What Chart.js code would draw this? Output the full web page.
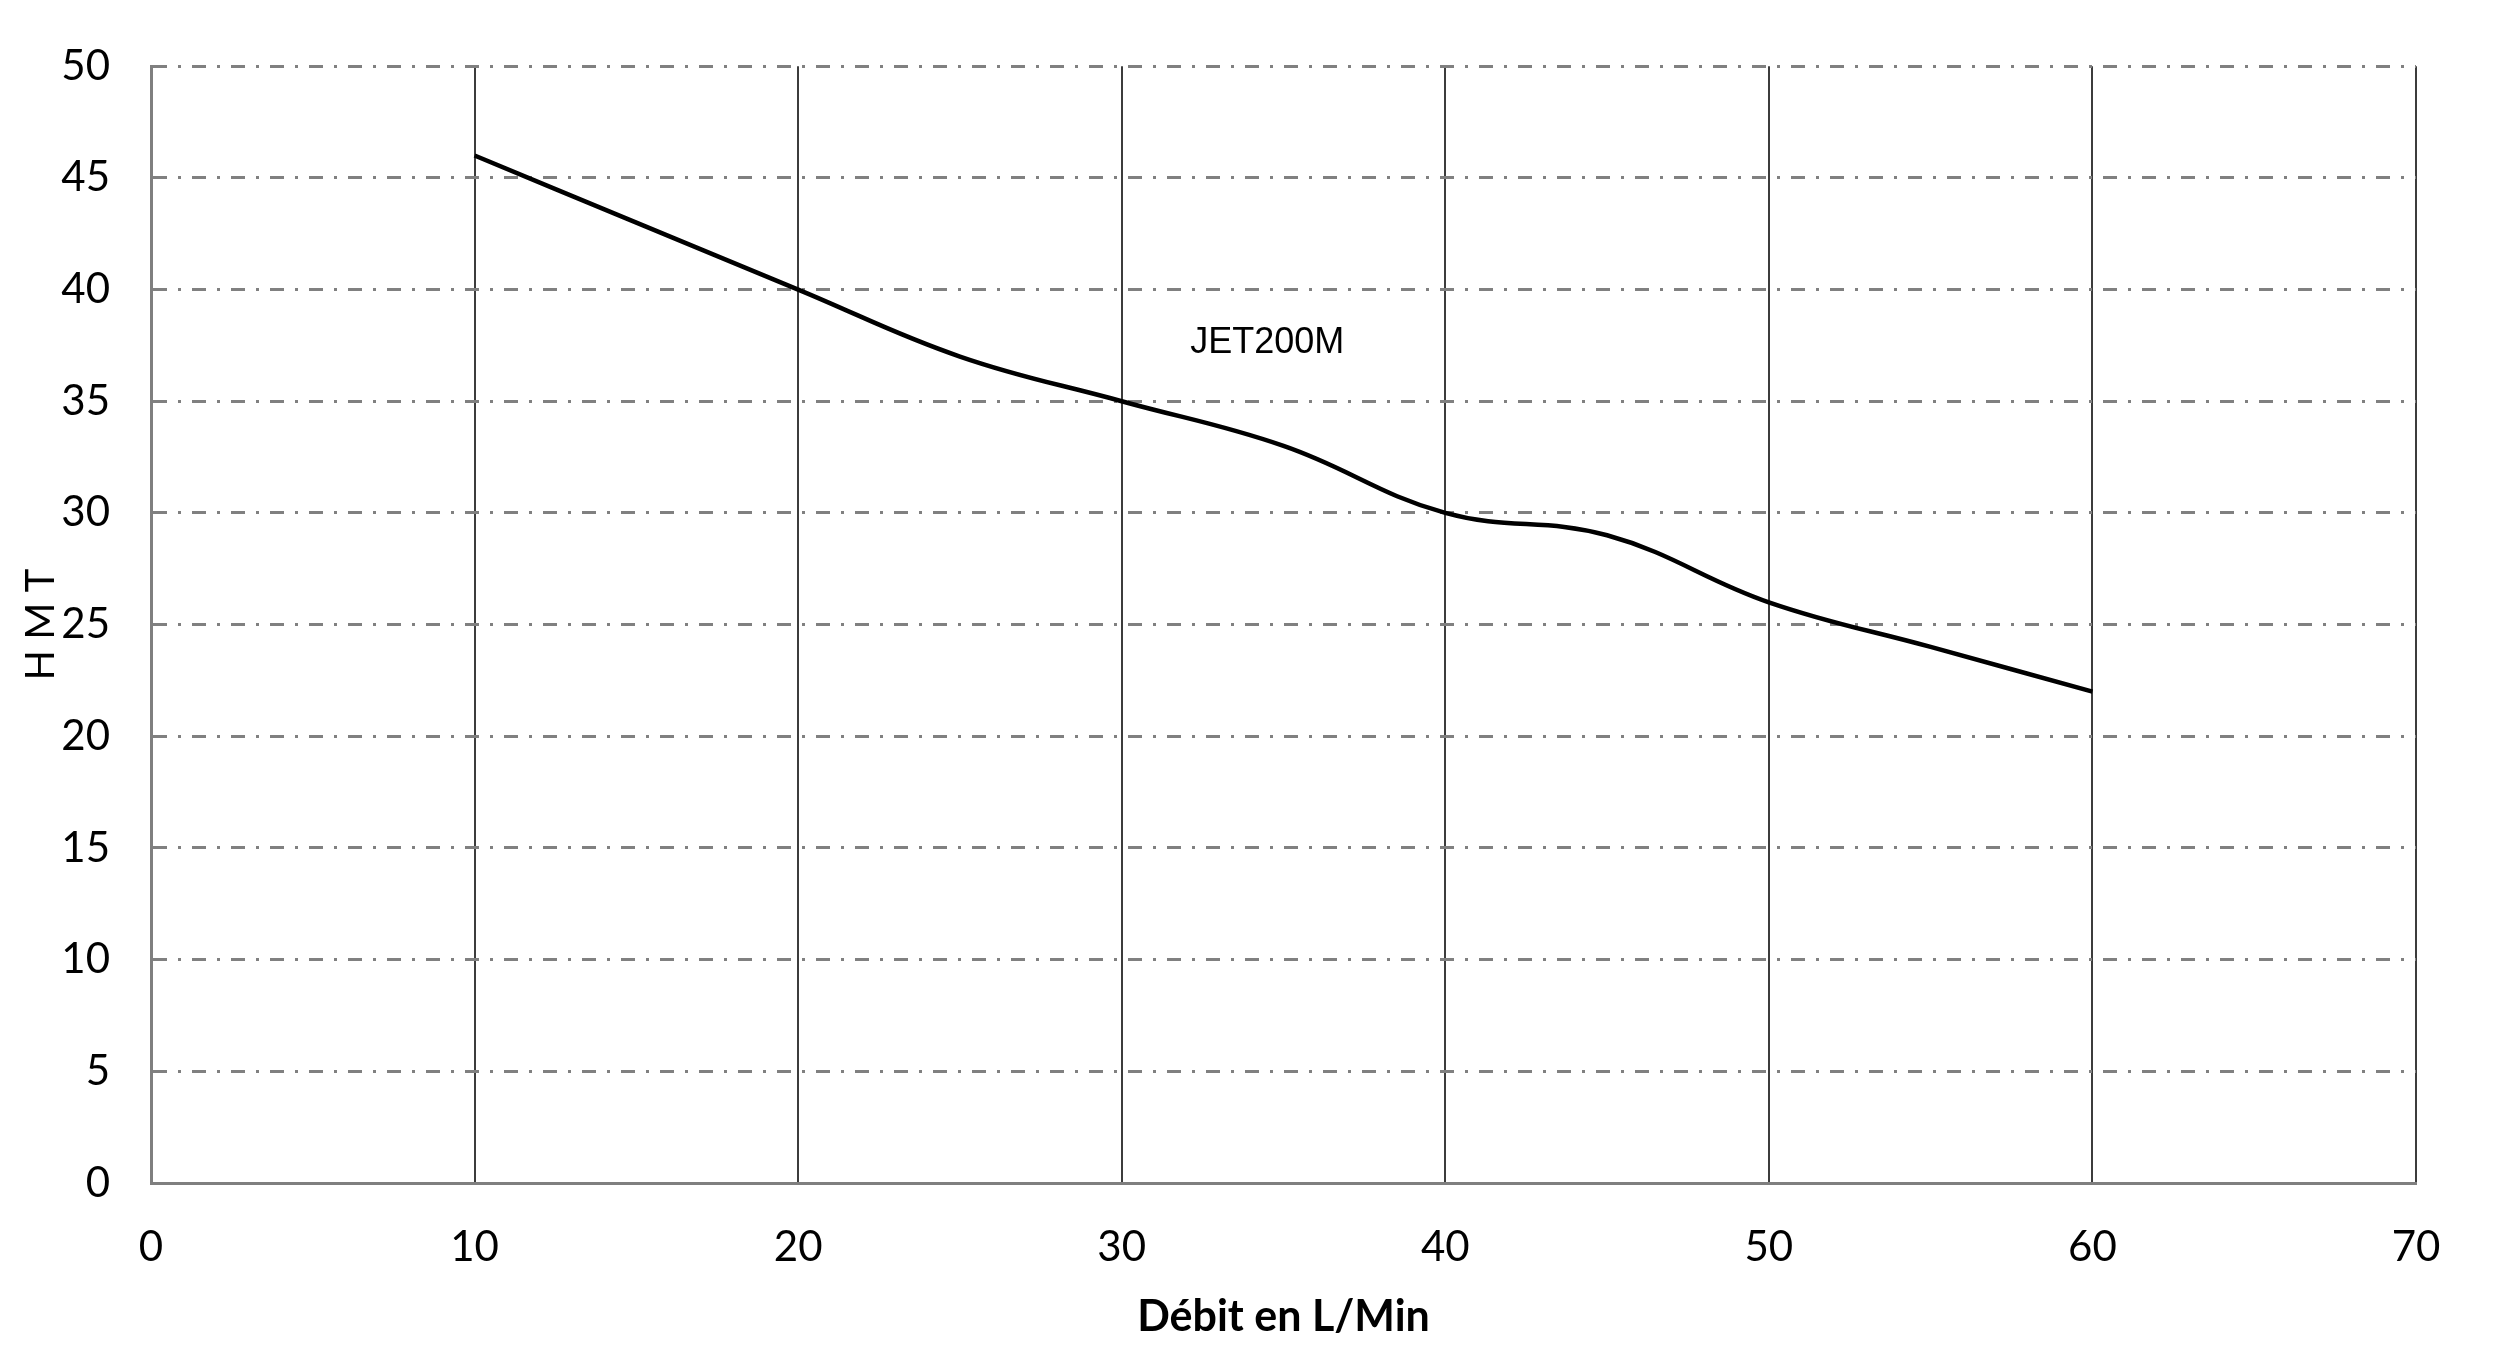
<!DOCTYPE html>
<html>
<head>
<meta charset="utf-8">
<script src="https://cdn.jsdelivr.net/npm/chart.js@4.4.1/dist/chart.umd.min.js"></script>
<style>
  html, body { margin: 0; padding: 0; background: #fff; }
  #wrap { width: 2500px; height: 1349px; }
</style>
</head>
<body>
<div id="wrap"><canvas id="curve"></canvas></div>
<script>
// ===== Pump curve JET200M =====
const debit = [10, 15, 20, 25, 30, 35, 40, 45, 50, 55, 60];
const hmt = [46, 43, 40, 37, 35, 33, 30, 29, 26, 24, 22];
const seriesName = 'JET200M';
const xTitle = 'Débit en L/Min';
const yTitle = 'H M T';
const labelAt = { x: 34.5, y: 37.6 };

const tickFont = { family: 'Lato', size: 42 };

// draws the series name inside the plot
const seriesLabel = {
  id: 'seriesLabel',
  afterDatasetsDraw(chart) {
    const { ctx, scales } = chart;
    ctx.save();
    ctx.font = '36px "Liberation Sans", Arial, sans-serif';
    ctx.fillStyle = '#000';
    ctx.textAlign = 'center';
    ctx.textBaseline = 'middle';
    ctx.fillText(seriesName, scales.x.getPixelForValue(labelAt.x), scales.y.getPixelForValue(labelAt.y));
    ctx.restore();
  },
};

new Chart(document.getElementById('curve'), {
  type: 'line',
  data: {
    datasets: [{
      label: seriesName,
      data: debit.map((d, i) => ({ x: d, y: hmt[i] })),
      borderColor: '#000',
      borderWidth: 4.5,
      pointRadius: 0,
      tension: 0.4,
      fill: false,
    }],
  },
  options: {
    responsive: true,
    maintainAspectRatio: false,
    animation: false,
    layout: { padding: { left: 0, top: 65, right: 84, bottom: 0 } },
    plugins: { legend: { display: false }, tooltip: { enabled: false } },
    scales: {
      x: {
        type: 'linear',
        min: 0,
        max: 70,
        afterFit: (s) => { s.height = 166; },
        ticks: { stepSize: 10, color: '#000', font: tickFont, padding: 39, maxRotation: 0 },
        grid: { color: '#3c3c3c', lineWidth: 2, drawTicks: false },
        border: { color: '#7f7f7f', width: 3 },
        title: {
          display: true,
          text: xTitle,
          color: '#000',
          font: { family: 'Lato', size: 43, weight: 'bold' },
          padding: { top: 0, bottom: 6 },
        },
      },
      y: {
        min: 0,
        max: 50,
        afterFit: (s) => { s.width = 151; },
        ticks: { stepSize: 5, color: '#000', font: tickFont, padding: 41 },
        grid: { color: '#808080', lineWidth: 3, drawTicks: false },
        border: { color: '#7f7f7f', width: 3, dash: [14, 11, 3, 11] },
        title: {
          display: true,
          text: yTitle,
          color: '#000',
          font: { family: 'Lato', size: 40 },
          padding: { top: 17, bottom: 0 },
        },
      },
    },
  },
  plugins: [seriesLabel],
});
</script>
</body>
</html>
